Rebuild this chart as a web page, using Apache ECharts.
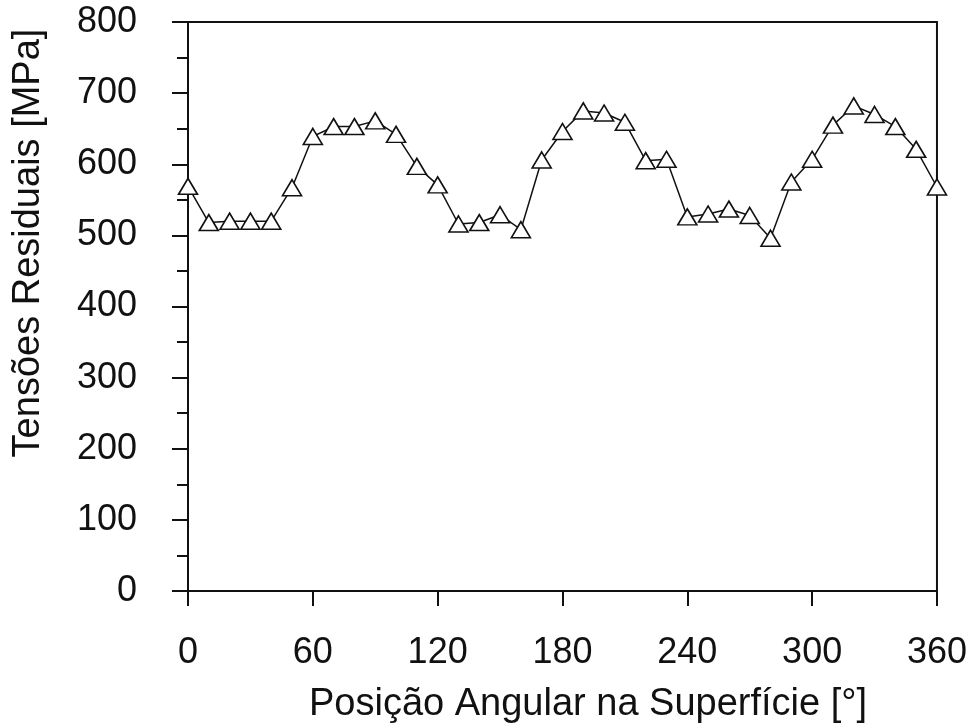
<!DOCTYPE html>
<html>
<head>
<meta charset="utf-8">
<script src="https://cdn.jsdelivr.net/npm/echarts@6/dist/echarts.min.js"></script>
<style>
  html, body { margin: 0; padding: 0; background: #fff; }
  #chart { width: 970px; height: 727px; }
</style>
</head>
<body>
<div id="chart"></div>
<script>
// angular position on the surface [deg]
const angles = [0, 10, 20, 30, 40, 50, 60, 70, 80, 90, 100, 110, 120, 130, 140, 150, 160, 170, 180,
  190, 200, 210, 220, 230, 240, 250, 260, 270, 280, 290, 300, 310, 320, 330, 340, 350, 360];
// residual stress [MPa]
const stress = [569, 518, 520, 520, 520, 567, 639, 653, 653, 661, 642, 597, 571, 516, 518, 529, 508, 606, 646,
  675, 672, 659, 605, 607, 526, 530, 537, 528, 496, 575, 607, 655, 682, 670, 653, 621, 568];

const xTitle = 'Posição Angular na Superfície [°]';
const yTitle = 'Tensões Residuais [MPa]';

const font = "'Liberation Sans', Arial, sans-serif";
const ink = '#111';

const chart = echarts.init(document.getElementById('chart'));
chart.setOption({
  animation: false,
  backgroundColor: '#fff',
  textStyle: { fontFamily: font },
  grid: {
    left: 188, right: 33, top: 22, bottom: 136,
    show: true, borderColor: ink, borderWidth: 2, backgroundColor: 'transparent'
  },
  xAxis: {
    type: 'value', min: 0, max: 360, interval: 60,
    axisLine: { show: true, onZero: false, lineStyle: { color: ink, width: 2 } },
    axisTick: { show: true, inside: false, length: 15, lineStyle: { color: ink, width: 2 } },
    axisLabel: { color: ink, fontSize: 36, fontFamily: font, margin: 44 },
    splitLine: { show: false }
  },
  yAxis: {
    type: 'value', min: 0, max: 800, interval: 100,
    axisLine: { show: true, lineStyle: { color: ink, width: 2 } },
    axisTick: { show: true, inside: false, length: 16, lineStyle: { color: ink, width: 2 } },
    minorTick: { show: true, splitNumber: 2, length: 11, lineStyle: { color: ink, width: 2 } },
    axisLabel: { color: ink, fontSize: 36, fontFamily: font, margin: 51 },
    splitLine: { show: false },
    minorSplitLine: { show: false }
  },
  graphic: [
    {
      type: 'text', x: 588, y: 705,
      style: { text: xTitle, fill: ink, font: '38px ' + font, align: 'center', verticalAlign: 'middle' }
    },
    {
      type: 'text', x: 29, y: 243, rotation: Math.PI / 2,
      style: { text: yTitle, fill: ink, font: '38px ' + font, align: 'center', verticalAlign: 'middle' }
    }
  ],
  series: [{
    type: 'line',
    data: angles.map((a, i) => [a, stress[i]]),
    symbol: 'triangle',
    symbolSize: [19, 16],
    showAllSymbol: true,
    lineStyle: { color: ink, width: 1.5 },
    itemStyle: { color: '#fff', borderColor: ink, borderWidth: 1.6 },
    z: 3
  }]
});
</script>
</body>
</html>
